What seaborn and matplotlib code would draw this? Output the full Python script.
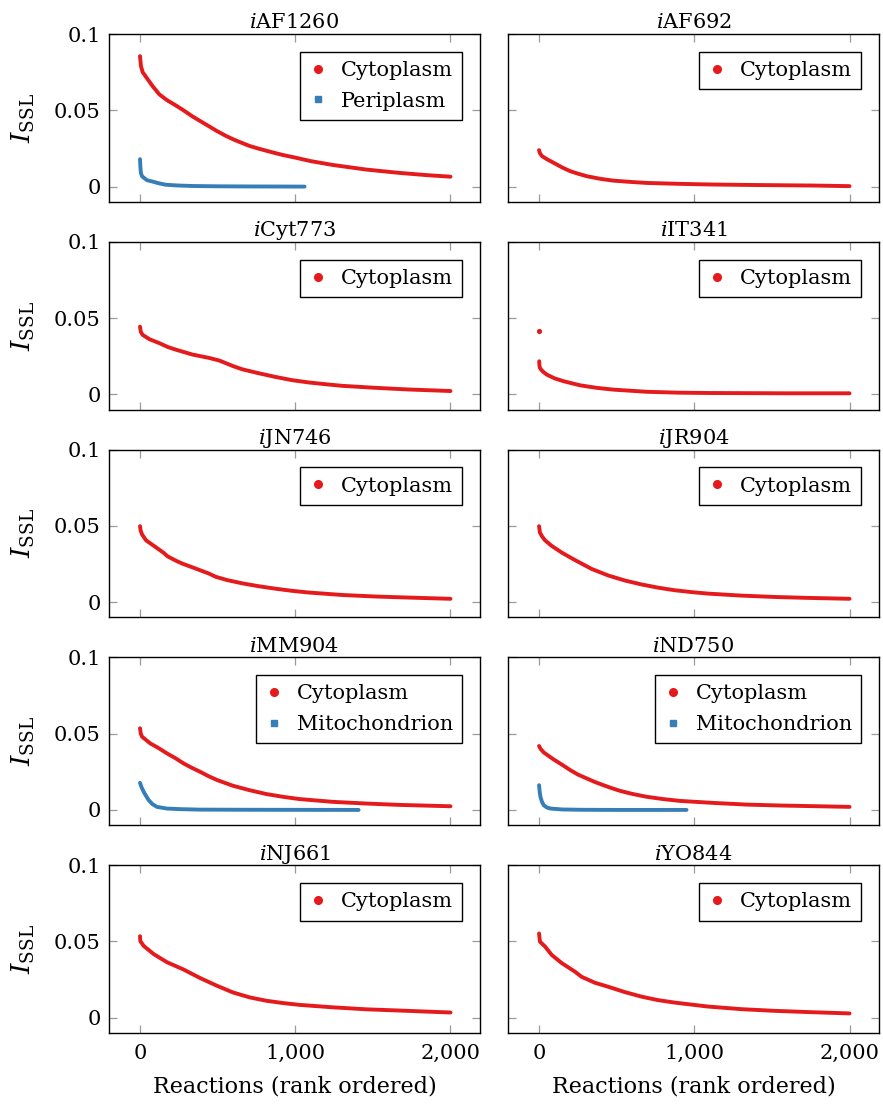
import matplotlib
matplotlib.use("Agg")
import matplotlib.pyplot as plt
from matplotlib.lines import Line2D
from matplotlib.ticker import FuncFormatter, FixedLocator
import seaborn as sns

# ---------------- data ----------------
models = ["AF1260", "AF692", "Cyt773", "IT341", "JN746",
          "JR904", "MM904", "ND750", "NJ661", "YO844"]

AF1260_cyto_rank = [0, 6, 17, 45, 80, 124, 173, 231, 280, 338, 387, 445, 494, 552, 600, 660,
                    707, 767, 814, 874, 921, 1000, 1100, 1241, 1455, 1669, 1850, 2000]
AF1260_cyto_val = [0.0855, 0.079, 0.075, 0.071, 0.066, 0.0605, 0.0567, 0.0532, 0.050, 0.046,
                   0.043, 0.0395, 0.0365, 0.0333, 0.031, 0.0285, 0.0266, 0.0248, 0.0235,
                   0.0219, 0.0207, 0.019, 0.0167, 0.0142, 0.0112, 0.009, 0.0075, 0.0065]
AF1260_peri_rank = [0, 3, 6, 13, 28, 45, 81, 120, 167, 250, 338, 500, 700, 1060]
AF1260_peri_val = [0.018, 0.012, 0.0088, 0.0068, 0.0055, 0.0042, 0.0033, 0.0022, 0.0012,
                   0.0007, 0.0004, 0.0002, 0.0001, 0.0]

AF692_cyto_rank = [0, 5, 19, 50, 94, 150, 201, 250, 308, 400, 480, 600, 694, 908, 1100,
                   1336, 1550, 1764, 2000]
AF692_cyto_val = [0.0239, 0.022, 0.020, 0.018, 0.0156, 0.0125, 0.0101, 0.0085, 0.0068, 0.005,
                  0.0039, 0.003, 0.0024, 0.0018, 0.0014, 0.0011, 0.0009, 0.0007, 0.0003]

Cyt773_cyto_rank = [0, 5, 17, 60, 124, 180, 231, 338, 445, 510, 552, 600, 660, 767, 874, 981,
                    1088, 1200, 1302, 1516, 1730, 2000]
Cyt773_cyto_val = [0.0444, 0.041, 0.039, 0.0362, 0.0336, 0.031, 0.0293, 0.0261, 0.0239, 0.0222,
                   0.0205, 0.0185, 0.0164, 0.0138, 0.0114, 0.0093, 0.0078, 0.0066, 0.0056,
                   0.0043, 0.0032, 0.0022]

IT341_outlier_rank = [0]
IT341_outlier_val = [0.0414]
IT341_cyto_rank = [1, 2, 3, 6, 15, 30, 51, 100, 159, 266, 370, 480, 694, 908, 1100, 1336,
                   1600, 2000]
IT341_cyto_val = [0.0217, 0.0195, 0.0185, 0.0173, 0.016, 0.0145, 0.0129, 0.0105, 0.0086,
                  0.0059, 0.0043, 0.0031, 0.0017, 0.0011, 0.0009, 0.0008, 0.0007, 0.0007]

JN746_cyto_rank = [0, 4, 13, 39, 81, 124, 150, 178, 231, 274, 338, 445, 488, 560, 660,
                   767, 874, 981, 1088, 1302, 1516, 1730, 2000]
JN746_cyto_val = [0.0498, 0.047, 0.0444, 0.0405, 0.0375, 0.0344, 0.0325, 0.0300, 0.0272,
                  0.0252, 0.0228, 0.0187, 0.0166, 0.0145, 0.0123, 0.0104, 0.0088, 0.0074,
                  0.0063, 0.0047, 0.0037, 0.003, 0.0022]

JR904_cyto_rank = [0, 6, 20, 39, 81, 146, 231, 338, 445, 552, 660, 767, 874, 981, 1088, 1302,
                   1516, 1730, 2000]
JR904_cyto_val = [0.0498, 0.0455, 0.043, 0.0405, 0.0369, 0.0325, 0.0276, 0.0218, 0.0175,
                  0.0142, 0.0116, 0.0095, 0.0078, 0.0066, 0.0056, 0.0043, 0.0034, 0.0028,
                  0.0022]

MM904_cyto_rank = [0, 5, 13, 66, 120, 173, 230, 280, 330, 387, 440, 494, 550, 600, 707, 814,
                   921, 1028, 1241, 1455, 1669, 2000]
MM904_cyto_val = [0.0535, 0.050, 0.048, 0.0436, 0.0405, 0.0371, 0.0338, 0.0305, 0.0278, 0.025,
                  0.0222, 0.0197, 0.0176, 0.0158, 0.0129, 0.0104, 0.0086, 0.0071, 0.0053,
                  0.0042, 0.0033, 0.0024]
MM904_mito_rank = [0, 10, 24, 40, 56, 80, 109, 173, 260, 387, 700, 1408]
MM904_mito_val = [0.0178, 0.0148, 0.0118, 0.009, 0.0064, 0.0038, 0.002, 0.0009, 0.0005,
                  0.0002, 0.0001, 0.0]

ND750_cyto_rank = [0, 10, 30, 60, 94, 150, 201, 250, 308, 360, 415, 470, 522, 600, 694, 800,
                   908, 1122, 1336, 1550, 1800, 2000]
ND750_cyto_val = [0.0419, 0.040, 0.0377, 0.0355, 0.0331, 0.0295, 0.0261, 0.0232, 0.0206,
                  0.0183, 0.0162, 0.0142, 0.0125, 0.0105, 0.0086, 0.0071, 0.0059, 0.0046,
                  0.0035, 0.0029, 0.0024, 0.002]
ND750_mito_rank = [0, 4, 9, 18, 30, 50, 73, 150, 266, 500, 950]
ND750_mito_val = [0.0162, 0.012, 0.0086, 0.0055, 0.0031, 0.0016, 0.0009, 0.0003, 0.0001,
                  0.0, 0.0]

NJ661_cyto_rank = [0, 2, 24, 88, 173, 280, 387, 494, 600, 707, 814, 921, 1028, 1241, 1455,
                   1669, 2000]
NJ661_cyto_val = [0.0534, 0.0502, 0.047, 0.0417, 0.0364, 0.0316, 0.0260, 0.021, 0.0165,
                  0.0133, 0.0111, 0.0096, 0.0084, 0.0068, 0.0055, 0.0047, 0.0034]

YO844_cyto_rank = [0, 6, 39, 81, 146, 231, 274, 360, 445, 552, 660, 767, 874, 1088, 1302,
                   1516, 1730, 2000]
YO844_cyto_val = [0.0552, 0.0498, 0.0466, 0.0412, 0.0358, 0.0302, 0.0268, 0.0229, 0.0203,
                  0.0168, 0.0138, 0.0115, 0.0099, 0.0073, 0.0056, 0.0045, 0.0037, 0.0028]

x_ticks = [0, 1000, 2000]
y_ticks = [0, 0.05, 0.1]
y_tick_labels = ["0", "0.05", "0.1"]

RED = "#e41a1c"
BLUE = "#377eb8"

series = {
    "AF1260": [("Cytoplasm", AF1260_cyto_rank, AF1260_cyto_val),
               ("Periplasm", AF1260_peri_rank, AF1260_peri_val)],
    "AF692": [("Cytoplasm", AF692_cyto_rank, AF692_cyto_val)],
    "Cyt773": [("Cytoplasm", Cyt773_cyto_rank, Cyt773_cyto_val)],
    "IT341": [("Cytoplasm", IT341_cyto_rank, IT341_cyto_val)],
    "JN746": [("Cytoplasm", JN746_cyto_rank, JN746_cyto_val)],
    "JR904": [("Cytoplasm", JR904_cyto_rank, JR904_cyto_val)],
    "MM904": [("Cytoplasm", MM904_cyto_rank, MM904_cyto_val),
              ("Mitochondrion", MM904_mito_rank, MM904_mito_val)],
    "ND750": [("Cytoplasm", ND750_cyto_rank, ND750_cyto_val),
              ("Mitochondrion", ND750_mito_rank, ND750_mito_val)],
    "NJ661": [("Cytoplasm", NJ661_cyto_rank, NJ661_cyto_val)],
    "YO844": [("Cytoplasm", YO844_cyto_rank, YO844_cyto_val)],
}

# ---------------- style ----------------
sns.set_theme(style="ticks")
plt.rcParams["font.family"] = ["DejaVu Serif"]
plt.rcParams["mathtext.fontset"] = "dejavuserif"
plt.rcParams["text.color"] = "black"
plt.rcParams["axes.labelcolor"] = "black"
plt.rcParams["axes.titlecolor"] = "black"
plt.rcParams["xtick.labelcolor"] = "black"
plt.rcParams["ytick.labelcolor"] = "black"

fig, axes = plt.subplots(5, 2, figsize=(8.83, 11.05), dpi=100, sharex=True, sharey=True)
fig.subplots_adjust(left=0.1234, right=0.9955, top=0.9692, bottom=0.0652,
                    wspace=0.0755, hspace=0.238)

FS = 15

for idx, name in enumerate(models):
    ax = axes[idx // 2, idx % 2]
    handles = []
    for (label, xr, yv) in series[name]:
        col = RED if label == "Cytoplasm" else BLUE
        sns.lineplot(x=xr, y=yv, ax=ax, color=col, linewidth=2.8,
                     solid_capstyle="round", solid_joinstyle="round", legend=False,
                     estimator=None, sort=False)
        handles.append(Line2D([], [], linestyle="none", color=col,
                              marker="o" if label == "Cytoplasm" else "s",
                              markersize=5.5 if label == "Cytoplasm" else 5,
                              label=label))
    if name == "IT341":
        sns.scatterplot(x=IT341_outlier_rank, y=IT341_outlier_val, ax=ax, color=RED,
                        s=14, linewidth=0, legend=False)

    ax.set_xlim(-200, 2190)
    ax.set_ylim(-0.01, 0.1)
    ax.xaxis.set_major_locator(FixedLocator(x_ticks))
    ax.xaxis.set_major_formatter(FuncFormatter(lambda v, p: f"{v:,.0f}"))
    ax.set_yticks(y_ticks)
    ax.set_yticklabels(y_tick_labels)
    ax.tick_params(direction="in", top=True, right=True, length=6, width=0.9,
                   color="#9a9a9a", labelsize=FS, labelcolor="black")
    ax.tick_params(axis="y", pad=6)
    ax.tick_params(axis="x", pad=8)
    for sp in ax.spines.values():
        sp.set_color("black")
        sp.set_linewidth(1.0)
        sp.set_visible(True)
    ax.set_title(r"$i$" + name, fontsize=FS, pad=4, color="black")
    leg = ax.legend(handles=handles, loc="upper right", fontsize=FS, frameon=True,
                    fancybox=False, framealpha=1, edgecolor="black",
                    borderaxespad=0.85, handlelength=0.8, handletextpad=0.7,
                    labelspacing=0.55, borderpad=0.45)
    leg.get_frame().set_linewidth(1.0)
    for t in leg.get_texts():
        t.set_color("black")
    ax.set_xlabel("")
    ax.set_ylabel("")
    if idx % 2 == 0:
        ax.set_ylabel(r"$I_{\mathrm{SSL}}$", fontsize=19, labelpad=12, color="black")
    if idx // 2 == 4:
        ax.set_xlabel("Reactions (rank ordered)", fontsize=16, labelpad=9, color="black")

fig.savefig("out.png", dpi=100)
